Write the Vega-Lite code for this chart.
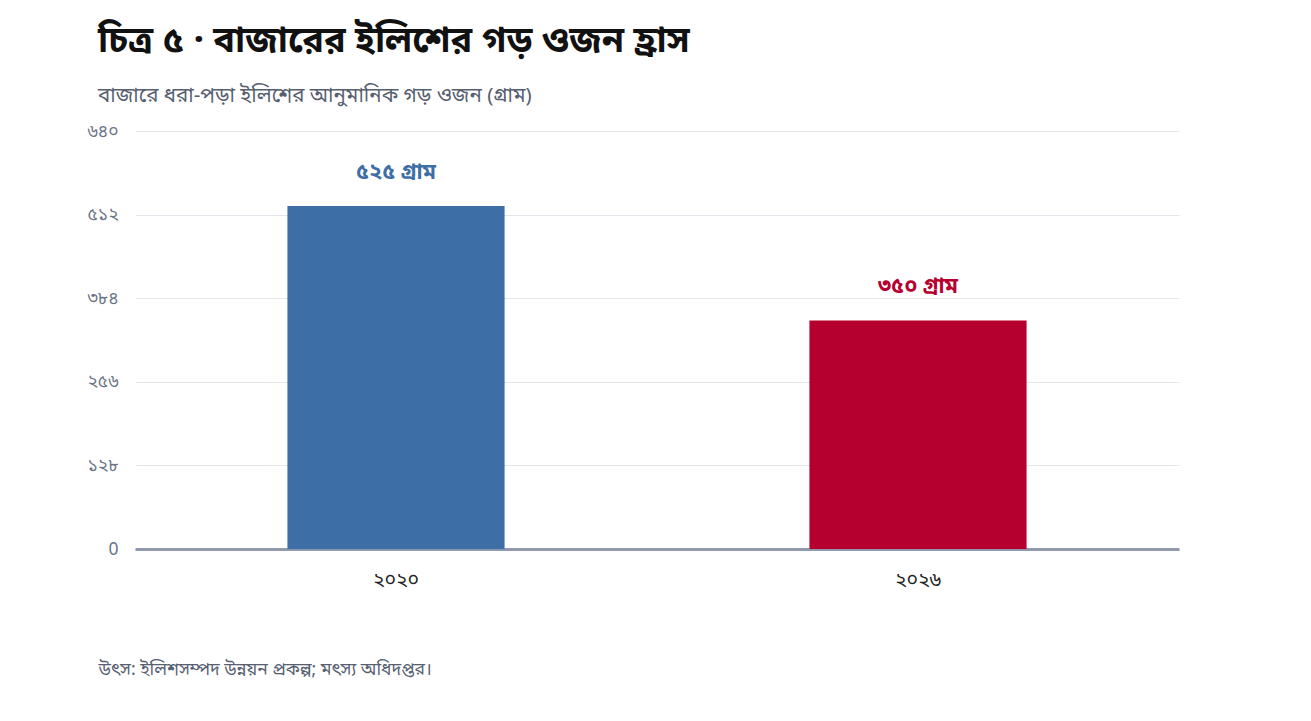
{
  "$schema": "https://vega.github.io/schema/vega-lite/v6.json",
  "width": 1044,
  "height": 418,
  "autosize": {"type": "none"},
  "padding": {"left": 135, "top": 131, "right": 132, "bottom": 172},
  "background": "white",
  "title": {
    "text": "চিত্র ৫ · বাজারের ইলিশের গড় ওজন হ্রাস",
    "subtitle": "বাজারে ধরা-পড়া ইলিশের আনুমানিক গড় ওজন (গ্রাম)",
    "anchor": "start",
    "frame": "group",
    "dx": -37,
    "offset": 15,
    "fontSize": 36,
    "fontWeight": "bold",
    "color": "#111111",
    "subtitleFontSize": 20.5,
    "subtitleColor": "#566070",
    "subtitlePadding": 26,
    "font": "Noto Sans Bengali, Noto Sans",
    "subtitleFont": "Noto Sans Bengali, Noto Sans"
  },
  "data": {
    "values": [
      {"year": "২০২০", "weight": 525, "label": "৫২৫ গ্রাম", "series": "a"},
      {"year": "২০২৬", "weight": 350, "label": "৩৫০ গ্রাম", "series": "b"}
    ]
  },
  "config": {
    "view": {"stroke": null},
    "font": "Noto Sans Bengali, Noto Sans"
  },
  "encoding": {
    "x": {
      "field": "year",
      "type": "nominal",
      "sort": null,
      "scale": {"paddingInner": 0.584, "paddingOuter": 0.292},
      "title": "উৎস: ইলিশসম্পদ উন্নয়ন প্রকল্প; মৎস্য অধিদপ্তর।",
      "axis": {
        "labelAngle": 0,
        "labelFontSize": 19.5,
        "labelColor": "#222222",
        "labelPadding": 21,
        "ticks": false,
        "domainColor": "#9099ad",
        "domainWidth": 3,
        "titleAnchor": "start",
        "titleAlign": "left",
        "titleX": -37,
        "titlePadding": 72,
        "titleFontSize": 17.5,
        "titleFontWeight": "normal",
        "titleColor": "#566070"
      }
    },
    "y": {
      "field": "weight",
      "type": "quantitative",
      "scale": {"domain": [0, 640]},
      "title": null,
      "axis": {
        "values": [0, 128, 256, 384, 512, 640],
        "labelExpr": "{'0':'0','128':'১২৮','256':'২৫৬','384':'৩৮৪','512':'৫১২','640':'৬৪০'}[datum.label]",
        "labelFontSize": 17.5,
        "labelColor": "#6b7385",
        "labelPadding": 17,
        "ticks": false,
        "domain": false,
        "gridColor": "#e3e6ed",
        "gridWidth": 1
      }
    },
    "color": {
      "field": "series",
      "type": "nominal",
      "scale": {"domain": ["a", "b"], "range": ["#3d6ea5", "#b5002f"]},
      "legend": null
    }
  },
  "layer": [
    {"mark": {"type": "bar"}},
    {
      "mark": {"type": "text", "baseline": "bottom", "dy": -22, "fontSize": 21.5, "fontWeight": "bold"},
      "encoding": {"text": {"field": "label"}}
    }
  ]
}
